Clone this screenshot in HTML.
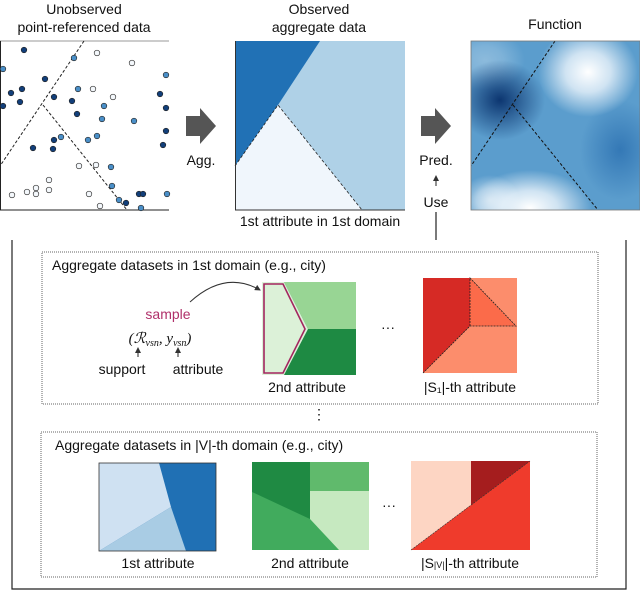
<!DOCTYPE html>
<html><head><meta charset="utf-8"><style>
html,body{margin:0;padding:0;background:#fff;}
svg{display:block;font-family:"Liberation Sans",sans-serif;}
</style></head><body>
<svg width="640" height="591" viewBox="0 0 640 591">
<defs>
<radialGradient id="gDark"><stop offset="0" stop-color="#08306b" stop-opacity="0.95"/><stop offset="1" stop-color="#08306b" stop-opacity="0"/></radialGradient>
<radialGradient id="gWhite"><stop offset="0" stop-color="#ffffff" stop-opacity="1"/><stop offset="0.45" stop-color="#f7fbff" stop-opacity="0.75"/><stop offset="1" stop-color="#f7fbff" stop-opacity="0"/></radialGradient>
<radialGradient id="gMid"><stop offset="0" stop-color="#2a6fb0" stop-opacity="0.8"/><stop offset="1" stop-color="#2a6fb0" stop-opacity="0"/></radialGradient>
<clipPath id="c3"><rect x="471" y="41" width="169" height="169"/></clipPath>
<marker id="ah" markerWidth="6" markerHeight="6" refX="5" refY="3" orient="auto"><path d="M0,0 L6,3 L0,6 z" fill="#333"/></marker>
</defs>
<style>text{fill:#111;}</style>

<text x="84" y="14" font-size="14" text-anchor="middle">Unobserved</text>
<text x="84" y="32" font-size="14" text-anchor="middle">point-referenced data</text>
<text x="319" y="14" font-size="14" text-anchor="middle">Observed</text>
<text x="319" y="32" font-size="14" text-anchor="middle">aggregate data</text>
<text x="555" y="29" font-size="14" text-anchor="middle">Function</text>

<g>
<rect x="0" y="41" width="169" height="169" fill="#fff"/>
<line x1="0" y1="41" x2="169" y2="41" stroke="#999"/>
<line x1="0.5" y1="41" x2="0.5" y2="210" stroke="#222"/>
<line x1="0" y1="210" x2="169" y2="210" stroke="#222"/>
<line x1="84" y1="41" x2="0" y2="166" stroke="#222" stroke-dasharray="3,2"/>
<line x1="43" y1="105" x2="127" y2="210" stroke="#222" stroke-dasharray="3,2"/>
<g id="pts"></g>
</g>

<path d="M186,116 h14 v-8 l16,18 l-16,18 v-8 h-14 z" fill="#555"/>
<text x="201" y="165" font-size="14" text-anchor="middle">Agg.</text>

<g>
<rect x="235" y="41" width="170" height="169" fill="#afd1e7"/>
<polygon points="235,41 320,41 278,105 235,166" fill="#2171b5"/>
<polygon points="278,105 235,166 235,210 362,210" fill="#f0f6fc"/>
<polyline points="235,166 278,105 362,210" fill="none" stroke="#222" stroke-dasharray="3,2" stroke-width="0.8"/>
<line x1="235" y1="210" x2="405" y2="210" stroke="#333"/>
<line x1="235.5" y1="41" x2="235.5" y2="210" stroke="#333"/>
</g>
<text x="320" y="226" font-size="14" text-anchor="middle">1st attribute in 1st domain</text>

<path d="M421,116 h14 v-8 l16,18 l-16,18 v-8 h-14 z" fill="#555"/>
<text x="436" y="165" font-size="14" text-anchor="middle">Pred.</text>
<line x1="436" y1="186" x2="436" y2="176" stroke="#222" marker-end="url(#ah)"/>
<text x="436" y="207" font-size="14" text-anchor="middle">Use</text>

<g clip-path="url(#c3)">
<rect x="471" y="41" width="169" height="169" fill="#5b9dcd"/>
<ellipse cx="485" cy="60" rx="40" ry="30" fill="url(#gWhite)" opacity="0.3"/>
<ellipse cx="620" cy="150" rx="40" ry="50" fill="url(#gMid)"/>
<ellipse cx="500" cy="100" rx="45" ry="40" fill="url(#gDark)"/>
<ellipse cx="588" cy="72" rx="50" ry="45" fill="url(#gWhite)"/>
<ellipse cx="530" cy="208" rx="62" ry="38" fill="url(#gWhite)"/>
<ellipse cx="490" cy="200" rx="30" ry="25" fill="url(#gWhite)" opacity="0.6"/>
<line x1="555" y1="41" x2="471" y2="166" stroke="#111" stroke-dasharray="3,2"/>
<line x1="513" y1="105" x2="598" y2="210" stroke="#111" stroke-dasharray="3,2"/>
</g>
<rect x="471" y="41" width="169" height="169" fill="none" stroke="#777" stroke-width="0.8"/>

<path d="M12,240 V589 H626 V240" fill="none" stroke="#222" stroke-width="1.2"/>
<line x1="436" y1="212" x2="436" y2="240" stroke="#222" stroke-width="1.2"/>

<rect x="42" y="252" width="556" height="152" fill="none" stroke="#666" stroke-dasharray="1,1"/>
<text x="52" y="270" font-size="14">Aggregate datasets in 1st domain (e.g., city)</text>
<text x="168" y="319" font-size="14" text-anchor="middle" style="fill:#b0306a">sample</text>
<path d="M190,302 Q225,270 260,290" fill="none" stroke="#333" marker-end="url(#ah)"/>
<text x="160" y="343" font-size="15" text-anchor="middle" font-family="Liberation Serif,serif" font-style="italic">(ℛ<tspan font-size="10" dy="3">vsn</tspan><tspan dy="-3">, y</tspan><tspan font-size="10" dy="3">vsn</tspan><tspan dy="-3">)</tspan></text>
<line x1="138" y1="357" x2="138" y2="348" stroke="#222" marker-end="url(#ah)"/>
<line x1="178" y1="357" x2="178" y2="348" stroke="#222" marker-end="url(#ah)"/>
<text x="122" y="374" font-size="14" text-anchor="middle">support</text>
<text x="198" y="374" font-size="14" text-anchor="middle">attribute</text>

<g>
<rect x="262" y="282" width="94" height="93" fill="#1e8a43"/>
<polygon points="284,282 356,282 356,329 308,329" fill="#98d594"/>
<polygon points="262,282 284,282 308,329 284,375 262,375" fill="#dcf1d8"/>
<polygon points="264,284 283,284 305,329 283,373 264,373" fill="none" stroke="#a3265f" stroke-width="1.6"/>
</g>
<text x="307" y="392" font-size="14" text-anchor="middle">2nd attribute</text>
<text x="388" y="332" font-size="14" text-anchor="middle">···</text>

<g>
<rect x="423" y="278" width="94" height="95" fill="#fc8d6c"/>
<polygon points="423,278 470,278 470,326 423,373" fill="#d62a25"/>
<polygon points="470,278 470,326 516,326" fill="#fb6b4a"/>
<polyline points="423,373 470,326 516,326 470,278 470,326" fill="none" stroke="#222" stroke-dasharray="2,1" stroke-width="0.8"/>
</g>
<text x="470" y="392" font-size="14" text-anchor="middle">|S₁|-th attribute</text>

<text x="319" y="419" font-size="14" text-anchor="middle">⋮</text>

<rect x="41" y="432" width="556" height="145" fill="none" stroke="#666" stroke-dasharray="1,1"/>
<text x="55" y="450" font-size="14">Aggregate datasets in |V|-th domain (e.g., city)</text>

<g>
<rect x="99" y="463" width="117" height="88" fill="#2070b4"/>
<polygon points="99,463 159,463 171,507 99,551" fill="#cfe1f2"/>
<polygon points="171,507 99,551 186,551" fill="#a9cce4"/>
<rect x="99" y="463" width="117" height="88" fill="none" stroke="#333" stroke-width="0.8"/>
</g>
<text x="158" y="568" font-size="14" text-anchor="middle">1st attribute</text>

<g>
<rect x="252" y="462" width="117" height="88" fill="#41ab5d"/>
<polygon points="252,462 310,462 310,519 252,492" fill="#1f8a43"/>
<polygon points="310,462 369,462 369,491 310,491" fill="#60ba6c"/>
<polygon points="310,491 369,491 369,550 339,550 310,519" fill="#c6e9c0"/>
</g>
<text x="310" y="568" font-size="14" text-anchor="middle">2nd attribute</text>
<text x="389" y="510" font-size="14" text-anchor="middle">···</text>

<g>
<rect x="411" y="461" width="119" height="89" fill="#ef3b2c"/>
<polygon points="411,461 471,461 471,505 411,550" fill="#fdd5c3"/>
<polygon points="471,461 530,461 471,505" fill="#a51d1e"/>
<line x1="411" y1="550" x2="530" y2="461" stroke="#333" stroke-width="0.6" stroke-dasharray="2,1"/>
</g>
<text x="470" y="568" font-size="14" text-anchor="middle">|S<tspan font-size="9">|V|</tspan>|-th attribute</text>
</svg>
<script>
const ptX=[24,97,132,3,74,166,45,78,93,11,22,113,160,3,20,54,72,104,166,77,102,134,166,54,61,88,97,163,33,53,79,96,111,49,36,36,49,12,27,89,112,119,126,139,143,167,100,141];
const ptY=[50,53,63,69,58,75,79,89,89,93,89,97,94,106,102,97,101,106,108,114,119,121,131,140,137,140,136,145,148,149,166,165,167,180,194,188,190,195,192,194,186,200,203,194,194,194,206,208];
const ptShade=[2,0,0,1,1,1,2,1,0,2,2,0,2,2,2,2,2,1,2,2,1,1,2,2,1,1,1,2,2,2,0,0,1,0,0,0,0,0,0,0,1,1,2,2,2,1,0,1];
const fills=['#f4f8fc','#4a8fc8','#123f7a'];
const g=document.getElementById('pts');
for(let i=0;i<ptX.length;i++){
  const c=document.createElementNS('http://www.w3.org/2000/svg','circle');
  c.setAttribute('cx',ptX[i]);c.setAttribute('cy',ptY[i]);c.setAttribute('r',2.8);
  c.setAttribute('fill',fills[ptShade[i]]);c.setAttribute('stroke','#222');c.setAttribute('stroke-width','0.6');
  
  
  g.appendChild(c);
}
</script>
</body></html>
